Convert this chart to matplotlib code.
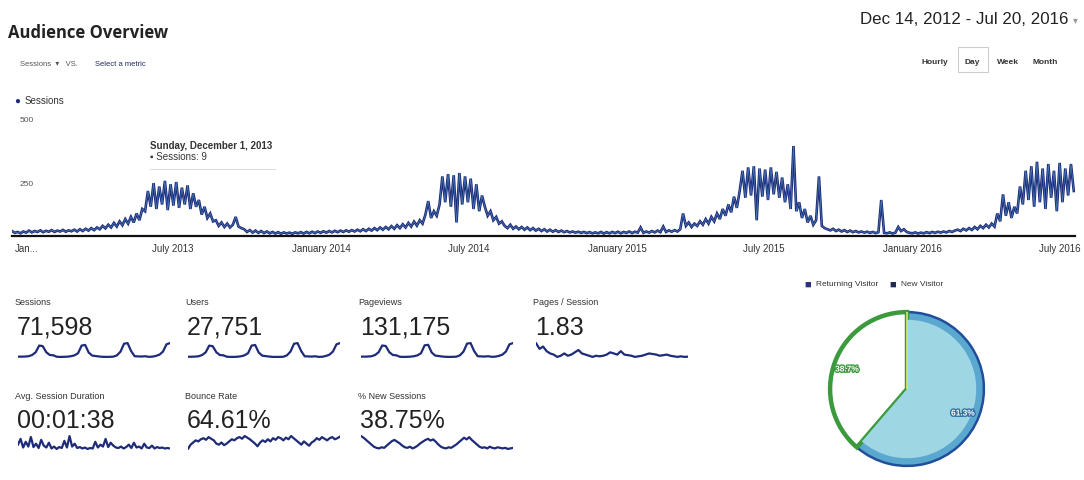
import numpy as np
import pandas as pd
import matplotlib
matplotlib.use("Agg")
import matplotlib.pyplot as plt
import matplotlib.patheffects as pe

plt.rcParams['font.family'] = ['Liberation Sans', 'DejaVu Sans']

W, H = 1084, 481

# daily sessions at half-week steps from Dec 14, 2012
sessions = [
    22, 14, 18, 12, 20, 15, 24, 16, 22, 18, 25, 17, 23, 19, 26, 18, 24, 20, 27, 19,
    25, 21, 28, 20, 30, 22, 32, 24, 35, 26, 38,
    30, 45, 34, 50, 38, 58, 42, 65, 48, 75, 55, 85, 60, 100, 70, 120,
    110, 200, 130, 235, 120, 220, 140, 245, 115, 230, 135, 240, 125, 215, 140, 225, 120, 190, 130,
    160, 95, 130, 80, 100, 65,
    70, 45, 60, 40, 55, 38, 50, 85, 42, 35,
    30, 18, 26, 15, 24, 14, 22, 13, 20, 12, 18, 11, 17, 10, 16, 11, 15, 10, 16, 12,
    17, 11, 18, 12, 19, 13, 20, 14, 21, 15, 22, 16, 23, 17, 24, 18, 25, 19, 26, 20,
    28, 21, 30, 22,
    32, 24, 35, 26, 38, 28, 40, 30, 44, 32, 48, 35, 52, 38, 58, 42, 64, 46,
    70, 55, 95, 155, 80, 110, 90,
    140, 265, 150, 275, 130, 270, 60, 280, 140, 265, 150, 255, 120, 230, 110, 180,
    130, 90, 110, 70, 85, 55, 65,
    45, 35, 50, 32, 42, 30, 40, 28, 38, 26, 35, 24, 32, 22, 30, 20, 28, 19, 26, 18,
    24, 17, 22, 16, 20, 15, 19, 14, 18, 13, 17, 12, 16,
    12, 18, 11, 17, 12, 18, 13, 19, 12, 18, 14, 20, 13, 19, 15, 38, 14, 20, 15, 22,
    16, 24, 17, 42, 18, 25, 19, 26, 20,
    30, 100, 45, 60, 40, 55, 45,
    65, 50, 75, 55, 85, 65, 100, 75, 120, 90, 140, 105, 175, 125,
    200, 290, 170, 305, 180, 310, 70, 300, 175, 295, 160, 305, 185, 285, 170, 260, 150,
    230, 120, 400, 110, 150, 80, 120, 60, 90, 50, 70,
    265, 45, 35, 30, 25, 32, 22, 28, 20, 26, 18, 24, 17, 22, 16, 20, 15, 19, 14, 18, 13, 17,
    160,
    14, 12, 16, 11, 15, 40, 22, 30, 18, 14, 12, 16, 11, 15, 12, 17, 13, 18, 14, 19,
    15, 20, 16, 22, 18, 24,
    28, 22, 32, 25, 35, 27, 40, 30, 45, 35, 50, 38, 55, 42,
    100, 65, 185, 90, 150, 80, 130, 100,
    220, 140, 290, 160, 310, 130, 330, 150, 300, 120, 320, 170, 290, 110, 325, 150,
    300, 180, 320, 200,
]
start_date = "2012-12-14"
end_date = "2016-07-20"

x_tick_dates = ["2013-01-01", "2013-07-01", "2014-01-01", "2014-07-01",
                "2015-01-01", "2015-07-01", "2016-01-01", "2016-07-01"]
x_tick_labels = ["Jan...", "July 2013", "January 2014", "July 2014",
                 "January 2015", "July 2015", "January 2016", "July 2016"]

# monthly sparkline values, Dec 2012 .. Jul 2016
sessions_m = [18, 18, 20, 25, 45, 90, 200, 190, 90, 45, 40, 16, 14, 15, 18, 25, 40, 75,
              200, 210, 85, 35, 28, 20, 15, 14, 15, 18, 40, 100, 230, 240, 110, 25, 22,
              20, 25, 15, 18, 30, 50, 100, 220, 240]
users_m = [7, 7, 8, 10, 18, 35, 78, 74, 36, 18, 16, 7, 6, 6, 7, 10, 16, 30, 78, 82, 34,
           14, 11, 8, 6, 6, 6, 7, 16, 40, 90, 94, 44, 10, 9, 8, 10, 6, 7, 12, 20, 40, 86, 94]
pageviews_m = [34, 33, 37, 46, 82, 165, 360, 345, 165, 82, 72, 30, 26, 28, 33, 46, 73,
               137, 365, 380, 155, 64, 51, 37, 28, 26, 28, 33, 73, 182, 415, 430, 198, 46,
               40, 37, 46, 28, 33, 55, 92, 182, 395, 430]
pages_per_session = [2.9, 2.4, 2.6, 2.2, 2.0, 1.9, 1.7, 1.8, 2.0, 1.8, 1.9, 2.1, 2.3, 2.0,
                     1.9, 1.8, 1.7, 1.8, 1.75, 1.8, 1.9, 2.1, 2.0, 1.9, 2.2, 1.9, 1.85, 1.8,
                     1.7, 1.75, 1.8, 1.9, 2.0, 1.95, 1.9, 1.8, 1.85, 1.9, 1.8, 1.75, 1.7,
                     1.75, 1.7, 1.72]
avg_duration = [120, 180, 90, 150, 100, 200, 95, 130, 85, 170, 110, 90, 140, 80, 100, 75,
                95, 85, 160, 90, 210, 100, 130, 85, 95, 80, 90, 75, 85, 80, 150, 90, 120,
                100, 180, 95, 140, 110, 90, 85, 100, 80, 95, 120, 85, 140, 90, 100, 80,
                130, 90, 85, 110, 80, 95, 85, 90, 80, 85, 80]
bounce_rate = [50, 58, 62, 66, 64, 68, 70, 67, 72, 69, 66, 60, 58, 62, 57, 60, 64, 68, 66,
               70, 72, 69, 74, 71, 68, 64, 60, 55, 62, 66, 63, 68, 64, 70, 67, 72, 70, 66,
               71, 68, 74, 70, 66, 62, 58, 64, 60, 56, 62, 65, 70, 67, 72, 69, 66, 70, 72,
               68, 70, 73]
new_sessions = [55, 52, 48, 44, 40, 36, 34, 33, 35, 34, 38, 42, 46, 48, 45, 42, 38, 35, 34,
                36, 33, 35, 38, 42, 45, 48, 50, 47, 49, 45, 40, 36, 34, 33, 35, 34, 37, 40,
                44, 48, 52, 49, 53, 48, 44, 40, 36, 34, 35, 33, 36, 34, 33, 35, 34, 33, 34,
                32, 33, 34]

metric_names = ["Sessions", "Users", "Pageviews", "Pages / Session",
                "Avg. Session Duration", "Bounce Rate", "% New Sessions"]
metric_values = ["71,598", "27,751", "131,175", "1.83", "00:01:38", "64.61%", "38.75%"]
metric_series = [sessions_m, users_m, pageviews_m, pages_per_session,
                 avg_duration, bounce_rate, new_sessions]

visitor_labels = ["Returning Visitor", "New Visitor"]
visitor_share = [61.3, 38.7]

NAVY = "#1e2b78"
TXT = "#222222"


def fx(px):
    return px / W


def fy(py):
    return 1 - py / H


def add_ax(left, top, right, bottom):
    return fig.add_axes([fx(left), fy(bottom), fx(right) - fx(left), (bottom - top) / H])


fig = plt.figure(figsize=(W / 100, H / 100), dpi=100)

# header
fig.text(fx(8), fy(33), "Audience Overview", fontsize=12, fontweight="bold",
         color=TXT, va="center", family=["Open Sans", "DejaVu Sans"])
fig.text(fx(20), fy(65), "Sessions  \u25be   VS.", fontsize=5.5, color="#555555", va="center")
fig.text(fx(95), fy(65), "Select a metric", fontsize=5.5, color="#1f2a60", va="center")
fig.text(fx(1068), fy(20), "Dec 14, 2012 - Jul 20, 2016", fontsize=12.2, color=TXT,
         va="center", ha="right")
fig.text(fx(1073), fy(20), "\u25be", fontsize=7, color="#999999", va="center")
for lbl, xc in zip(["Hourly", "Day", "Week", "Month"], [935, 972, 1008, 1045]):
    fig.text(fx(xc), fy(62), lbl, fontsize=6, fontweight="bold", color="#333333",
             va="center", ha="center")
fig.patches.append(plt.Rectangle((fx(958), fy(73)), fx(30), 25 / H, transform=fig.transFigure,
                                 fill=False, edgecolor="#cccccc", lw=0.8))

# legend + y labels for main chart
fig.text(fx(14), fy(101), "\u25cf", fontsize=7, color=NAVY, va="center")
fig.text(fx(25), fy(101), "Sessions", fontsize=7, color="#333333", va="center")
fig.text(fx(20), fy(120), "500", fontsize=6, color="#555555", va="center")
fig.text(fx(20), fy(184), "250", fontsize=6, color="#555555", va="center")

# main line chart
ax = add_ax(12, 124.5, 1075, 237)
dates = pd.date_range(start_date, periods=len(sessions), freq="84h")
ax.plot(dates, sessions, color=NAVY, lw=1.9, solid_joinstyle="miter")
ax.plot(dates, sessions, color="#6cc0ec", lw=0.5, alpha=0.55)
ax.set_xlim(pd.Timestamp(start_date), pd.Timestamp(end_date))
ax.set_ylim(0, 500)
for s in ["top", "right", "left"]:
    ax.spines[s].set_visible(False)
ax.spines["bottom"].set_color("#111111")
ax.spines["bottom"].set_linewidth(1.6)
ax.set_yticks([])
ax.set_xticks(pd.to_datetime(x_tick_dates))
ax.set_xticklabels(x_tick_labels, fontsize=7, color="#333333")
ax.tick_params(axis="x", length=0, pad=5)
ax.patch.set_alpha(0)

# tooltip
fig.text(fx(150), fy(146), "Sunday, December 1, 2013", fontsize=7, fontweight="bold",
         color="#333333", va="center")
fig.text(fx(150), fy(157), "\u25aa Sessions: 9", fontsize=7, color="#333333", va="center")
fig.add_artist(plt.Line2D([fx(150), fx(275)], [fy(170), fy(170)], color="#dddddd", lw=0.8))

# metric tiles
col_x = [15, 185, 358, 533]
rows = [(303, 328, 343, 359), (397, 421, 436, 451)]
for i, (name, val, series) in enumerate(zip(metric_names, metric_values, metric_series)):
    r, c = divmod(i, 4)
    ly, vy, st, sb = rows[r]
    x0 = col_x[c]
    fig.text(fx(x0), fy(ly), name, fontsize=6.5, color="#333333", va="center")
    fig.text(fx(x0 + 2), fy(vy), val, fontsize=18, color="#222222", va="center")
    sax = add_ax(x0 + 3, st, x0 + 155, sb)
    sax.plot(np.arange(len(series)), series, color=NAVY, lw=1.6)
    lo, hi = min(series), max(series)
    pad = (hi - lo) * 0.08
    sax.set_ylim(lo - pad, hi + pad)
    sax.set_xlim(0, len(series) - 1)
    sax.axis("off")

# pie
fig.text(fx(804), fy(285), "\u25a0", fontsize=8, color="#2b3280", va="center")
fig.text(fx(816), fy(285), visitor_labels[0], fontsize=6, color="#333333", va="center")
fig.text(fx(889), fy(285), "\u25a0", fontsize=8, color="#1f2a55", va="center")
fig.text(fx(901), fy(285), visitor_labels[1], fontsize=6, color="#333333", va="center")

pax = add_ax(827, 310, 987, 470)
wedges, _ = pax.pie(visitor_share, startangle=90, counterclock=False,
                    colors=["#5aa8d0", "white"], radius=1.0)
wedges[0].set_edgecolor("#1f4f9a")
wedges[0].set_linewidth(1.8)
wedges[1].set_edgecolor("#3a9a3c")
wedges[1].set_linewidth(3.2)
inner, _ = pax.pie(visitor_share, startangle=90, counterclock=False,
                   colors=["#9fd6e4", (1, 1, 1, 0)], radius=0.9)
for w in inner:
    w.set_linewidth(0)
pax.add_patch(plt.Polygon([[0, 0], [0, 1]], closed=False, edgecolor="#d8e870", lw=1.2))
pax.set_xlim(-1.04, 1.04)
pax.set_ylim(-1.04, 1.04)
pax.set_aspect("equal")
pax.axis("off")
fig.text(fx(847), fy(371), f"{visitor_share[1]}%", fontsize=6, fontweight="bold",
         color="white", ha="center", va="center",
         path_effects=[pe.withStroke(linewidth=2, foreground="#3a9a3c")])
fig.text(fx(963), fy(415), f"{visitor_share[0]}%", fontsize=6, fontweight="bold",
         color="white", ha="center", va="center",
         path_effects=[pe.withStroke(linewidth=2, foreground="#2f6fa8")])

fig.savefig("out.png", dpi=100)
